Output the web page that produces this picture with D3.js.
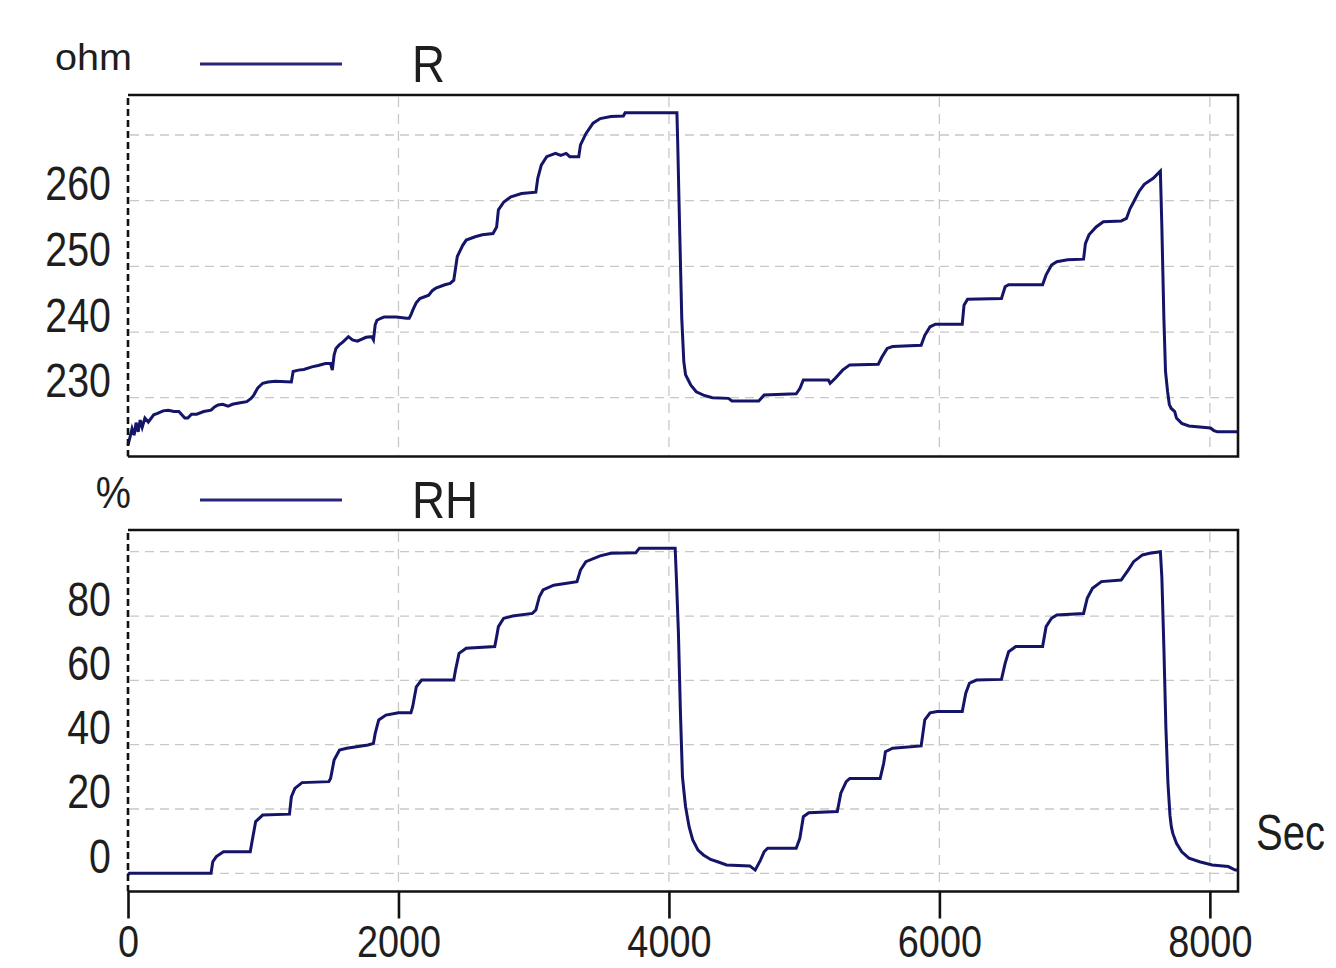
<!DOCTYPE html>
<html>
<head>
<meta charset="utf-8">
<script src="https://cdn.jsdelivr.net/npm/d3@7"></script>
<style>
  html, body { margin: 0; padding: 0; background: #ffffff; }
  svg { display: block; }
  text { font-family: "Liberation Sans", Arial, sans-serif; fill: #1e1e1e; }
</style>
</head>
<body>
<svg id="chart" width="1336" height="968"></svg>
<script>
// ---------------- DATA ----------------
const xTicks = [0, 2000, 4000, 6000, 8000];
const rLabelTicks = [230, 240, 250, 260];
const rGridTicks = [230, 240, 250, 260, 270];
const rhLabelTicks = [0, 20, 40, 60, 80];
const rhGridTicks = [0, 20, 40, 60, 80, 100];

const seriesRName = "R";
const seriesRHName = "RH";
const unitR = "ohm";
const unitRH = "%";
const unitX = "Sec";

// R (ohm) vs time (s)
const timeR = [0,15,30,45,60,75,90,105,125,150,190,218,260,297,340,376,420,442,470,508,560,614,640,666,700,740,772,820,878,910,930,960,996,1036,1089,1208,1221,1260,1300,1360,1406,1460,1498,1511,1524,1538,1560,1590,1630,1660,1696,1760,1802,1815,1828,1841,1870,1894,1986,2060,2079,2092,2105,2130,2158,2224,2250,2277,2343,2382,2409,2435,2475,2501,2567,2620,2699,2726,2739,2779,2832,2910,3016,3030,3056,3096,3161,3200,3240,3267,3333,3346,3386,3439,3492,3571,3663,3676,4059,4065,4080,4095,4110,4123,4162,4202,4255,4321,4440,4466,4664,4704,4941,4968,4994,5179,5192,5232,5284,5337,5548,5575,5614,5654,5865,5892,5931,5971,6169,6182,6208,6459,6486,6512,6763,6789,6829,6868,6948,7066,7080,7106,7159,7212,7344,7383,7410,7436,7476,7515,7581,7634,7645,7660,7672,7687,7700,7713,7740,7753,7792,7845,8004,8030,8056,8208];
const valueR = [222.8,224.0,225.3,224.3,226.2,224.8,226.6,225.5,226.9,226.3,227.4,227.6,228.0,228.1,227.9,227.9,226.9,226.9,227.5,227.5,227.9,228.1,228.6,228.9,229.0,228.7,229.0,229.2,229.4,229.9,230.4,231.5,232.2,232.4,232.5,232.4,234.0,234.2,234.3,234.7,234.9,235.2,235.2,234.2,236.5,237.5,238.0,238.5,239.3,238.8,238.6,239.2,239.3,238.8,241.1,241.8,242.1,242.3,242.3,242.1,242.1,242.6,243.3,244.4,245.1,245.6,246.3,246.7,247.2,247.4,247.9,251.5,253.2,254.0,254.5,254.8,255.0,256.0,258.6,259.8,260.6,261.1,261.3,263.4,265.4,266.7,267.2,266.9,267.2,266.7,266.7,268.5,270.2,271.8,272.5,272.8,272.9,273.4,273.4,268.7,255.0,242.0,235.5,233.5,231.9,230.9,230.4,230.0,229.9,229.5,229.5,230.4,230.6,231.4,232.7,232.7,232.2,233.0,234.2,235.0,235.1,236.2,237.5,237.8,238.0,239.5,240.8,241.2,241.2,244.1,245.0,245.1,246.9,247.2,247.2,248.7,250.2,250.7,251.0,251.1,253.5,254.8,256.0,256.8,256.9,257.3,258.8,259.8,261.4,262.5,263.4,264.5,256.0,242.0,234.0,231.0,229.0,228.4,227.9,226.9,226.1,225.7,225.4,225.0,224.8,224.8];

// RH (%) vs time (s)
const timeRH = [0,10,614,627,653,706,904,917,944,996,1194,1208,1234,1287,1485,1498,1524,1564,1617,1775,1815,1828,1854,1907,2000,2092,2105,2132,2171,2409,2422,2448,2501,2712,2726,2739,2778,2844,2990,3016,3042,3069,3148,3320,3346,3386,3491,3570,3755,3782,4046,4055,4070,4085,4100,4115,4123,4149,4176,4215,4255,4308,4360,4426,4598,4638,4677,4704,4730,4941,4968,4994,5034,5245,5271,5311,5337,5562,5588,5601,5654,5865,5892,5931,5984,6169,6195,6222,6274,6459,6486,6512,6565,6763,6789,6829,6868,7066,7093,7132,7198,7344,7396,7436,7502,7555,7634,7645,7660,7675,7690,7705,7715,7726,7753,7792,7845,7924,8017,8136,8188,8208];
const valueRH = [-0.5,0,0,3.6,5.2,6.7,6.7,9.8,16.1,18.1,18.4,23.8,26.4,28.2,28.5,29.5,35.2,38.3,38.9,39.9,40.4,43.5,47.7,49.2,49.9,49.9,51.8,58.0,60.1,60.1,63.2,68.4,70.0,70.5,73.6,76.7,79.3,80.0,80.8,81.9,86.0,88.1,89.6,90.7,94.3,96.9,98.7,99.5,99.7,101.1,101.1,92,75,50,30,23.8,20.7,14.5,10.4,7.2,5.7,4.3,3.6,2.6,2.3,1.0,4.1,6.7,7.8,7.8,10.9,17.6,18.8,19.2,24.9,28.5,29.5,29.5,34.2,37.8,38.9,39.6,47.7,49.9,50.3,50.3,56.0,59.1,60.1,60.3,65.3,68.9,70.5,70.5,76.7,79.3,80.3,80.8,85.5,88.6,90.7,91.2,94.3,96.9,99.0,99.5,100.0,92,70,45,28,18,14.5,12.4,9.3,6.7,4.7,3.6,2.6,2.1,1.0,1.0];

// ---------------- LAYOUT ----------------
const plotLeft = 128, plotRight = 1238;
const top1 = 95, bottom1 = 456.5;
const top2 = 530, bottom2 = 891.5;

const svg = d3.select("#chart");

const x = d3.scaleLinear().domain([0, 8208]).range([plotLeft, plotRight]);
const yR = d3.scaleLinear().domain([221.05, 276.09]).range([bottom1, top1]);
const yRH = d3.scaleLinear().domain([-5.66, 106.75]).range([bottom2, top2]);

const lineColor = "#141468";
const gridColor = "#c8c8c8";

function panel(yScale, top, bottom, gridTicks, labelTicks, times, values, unit, name, unitX0, legendY, nameBaseline, unitBaseline, unitFont) {
  const g = svg.append("g");

  // horizontal grid
  g.selectAll(".hg").data(gridTicks).enter().append("line")
    .attr("x1", plotLeft + 2).attr("x2", plotRight - 2)
    .attr("y1", d => yScale(d)).attr("y2", d => yScale(d))
    .attr("stroke", gridColor).attr("stroke-width", 1.3)
    .attr("stroke-dasharray", "9,6");

  // vertical grid
  g.selectAll(".vg").data(xTicks.filter(d => d > 0)).enter().append("line")
    .attr("x1", d => x(d)).attr("x2", d => x(d))
    .attr("y1", top + 2).attr("y2", bottom - 2)
    .attr("stroke", gridColor).attr("stroke-width", 1.3)
    .attr("stroke-dasharray", "10,7");

  // data line
  const pts = times.map((t, i) => [t, values[i]]);
  const line = d3.line().x(d => x(d[0])).y(d => yScale(d[1]));
  g.append("path").datum(pts)
    .attr("d", line)
    .attr("fill", "none")
    .attr("stroke", lineColor)
    .attr("stroke-width", 3)
    .attr("stroke-linejoin", "miter");

  // frame: top, right, bottom solid; left dashed
  g.append("path")
    .attr("d", `M${plotLeft},${top}H${plotRight}V${bottom}H${plotLeft}`)
    .attr("fill", "none").attr("stroke", "#111").attr("stroke-width", 2.6);
  g.append("line")
    .attr("x1", plotLeft).attr("x2", plotLeft)
    .attr("y1", top + 3).attr("y2", bottom)
    .attr("stroke", "#111").attr("stroke-width", 2.6)
    .attr("stroke-dasharray", "7,4");

  // y labels (via axis)
  const yAxis = d3.axisLeft(yScale).tickValues(labelTicks).tickSize(0).tickFormat(d3.format("d"));
  const ya = g.append("g").attr("transform", `translate(${plotLeft},0)`).call(yAxis);
  ya.select(".domain").remove();
  ya.selectAll("text")
    .attr("x", 0).attr("dy", 0).attr("y", 0)
    .attr("text-anchor", "end")
    .attr("transform", "translate(-17,-1) scale(0.82,1)")
    .style("font-size", "48px")
    .style("font-family", "'Liberation Sans', Arial, sans-serif")
    .attr("fill", "#1e1e1e");

  // unit label
  g.append("text")
    .attr("transform", `translate(${unitX0},${unitBaseline}) scale(${unit === "%" ? 0.9 : 1.07},1)`)
    .attr("text-anchor", "end")
    .style("font-size", unitFont + "px")
    .text(unit);

  // legend
  g.append("line")
    .attr("x1", 200).attr("x2", 342)
    .attr("y1", legendY).attr("y2", legendY)
    .attr("stroke", "#26267a").attr("stroke-width", 3);
  g.append("text")
    .attr("transform", `translate(412,${nameBaseline}) scale(0.88,1)`)
    .style("font-size", "52px")
    .text(name);
}

panel(yR, top1, bottom1, rGridTicks, rLabelTicks, timeR, valueR, unitR, seriesRName, 132, 64, 82, 70, 37);
panel(yRH, top2, bottom2, rhGridTicks, rhLabelTicks, timeRH, valueRH, unitRH, seriesRHName, 131, 500, 518, 508, 44);

// x axis on bottom panel
const xAxis = d3.axisBottom(x).tickValues(xTicks).tickSize(27).tickPadding(0).tickFormat(d3.format("d"));
const xa = svg.append("g").attr("transform", `translate(0,${bottom2})`).call(xAxis);
xa.select(".domain").remove();
xa.selectAll(".tick line").attr("stroke", "#111").attr("stroke-width", 2.6);
xa.selectAll("text")
  .attr("y", 0).attr("dy", 0)
  .attr("transform", "translate(0,65) scale(0.86,1)")
  .attr("text-anchor", "middle")
  .style("font-size", "44px")
  .style("font-family", "'Liberation Sans', Arial, sans-serif")
  .attr("fill", "#1e1e1e");

// x unit
svg.append("text")
  .attr("transform", "translate(1256,850) scale(0.8,1)")
  .style("font-size", "50px")
  .text(unitX);
</script>
</body>
</html>
